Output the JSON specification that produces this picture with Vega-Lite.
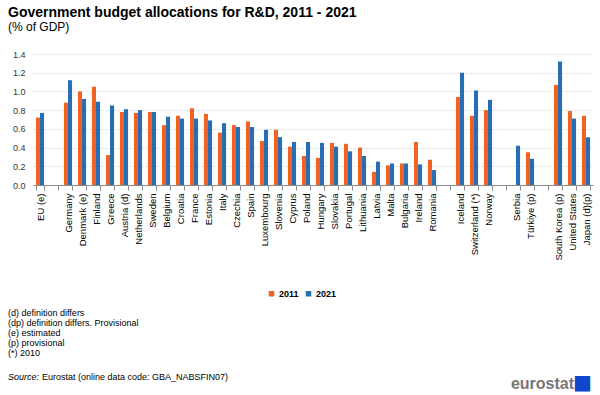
{
  "$schema": "https://vega.github.io/schema/vega-lite/v6.json",
  "padding": {"left": 8, "top": 6, "right": 7, "bottom": 5},
  "config": {"view": {"stroke": null}, "font": "Liberation Sans", "concat": {"spacing": 10}},
  "resolve": {"scale": {"color": "independent"}, "legend": {"color": "independent"}},
  "title": {
    "text": "Government budget allocations for R&D, 2011 - 2021",
    "subtitle": "(% of GDP)",
    "anchor": "start",
    "fontSize": 14,
    "fontWeight": "bold",
    "color": "#000000",
    "subtitleFontSize": 12,
    "subtitleColor": "#000000",
    "subtitlePadding": 2,
    "offset": 17
  },
  "datasets": {
    "bars": [
      {"country": "EU (e)", "year": "2021", "value": 0.77},
      {"country": "EU (e)", "year": "2011", "value": 0.72},
      {"country": "Germany", "year": "2011", "value": 0.88},
      {"country": "Germany", "year": "2021", "value": 1.12},
      {"country": "Denmark (e)", "year": "2011", "value": 1.0},
      {"country": "Denmark (e)", "year": "2021", "value": 0.92},
      {"country": "Finland", "year": "2011", "value": 1.05},
      {"country": "Finland", "year": "2021", "value": 0.89},
      {"country": "Greece", "year": "2011", "value": 0.32},
      {"country": "Greece", "year": "2021", "value": 0.85},
      {"country": "Austria (d)", "year": "2011", "value": 0.78},
      {"country": "Austria (d)", "year": "2021", "value": 0.81},
      {"country": "Netherlands", "year": "2011", "value": 0.77},
      {"country": "Netherlands", "year": "2021", "value": 0.8},
      {"country": "Sweden", "year": "2011", "value": 0.78},
      {"country": "Sweden", "year": "2021", "value": 0.78},
      {"country": "Belgium", "year": "2011", "value": 0.64},
      {"country": "Belgium", "year": "2021", "value": 0.73},
      {"country": "Croatia", "year": "2011", "value": 0.74},
      {"country": "Croatia", "year": "2021", "value": 0.71},
      {"country": "France", "year": "2011", "value": 0.82},
      {"country": "France", "year": "2021", "value": 0.71},
      {"country": "Estonia", "year": "2011", "value": 0.76},
      {"country": "Estonia", "year": "2021", "value": 0.69},
      {"country": "Italy", "year": "2011", "value": 0.56},
      {"country": "Italy", "year": "2021", "value": 0.66},
      {"country": "Czechia", "year": "2011", "value": 0.64},
      {"country": "Czechia", "year": "2021", "value": 0.62},
      {"country": "Spain", "year": "2011", "value": 0.68},
      {"country": "Spain", "year": "2021", "value": 0.62},
      {"country": "Luxembourg", "year": "2011", "value": 0.47},
      {"country": "Luxembourg", "year": "2021", "value": 0.59},
      {"country": "Slovenia", "year": "2011", "value": 0.59},
      {"country": "Slovenia", "year": "2021", "value": 0.51},
      {"country": "Cyprus", "year": "2011", "value": 0.41},
      {"country": "Cyprus", "year": "2021", "value": 0.46},
      {"country": "Poland", "year": "2011", "value": 0.31},
      {"country": "Poland", "year": "2021", "value": 0.46},
      {"country": "Hungary", "year": "2011", "value": 0.29},
      {"country": "Hungary", "year": "2021", "value": 0.45},
      {"country": "Slovakia", "year": "2011", "value": 0.45},
      {"country": "Slovakia", "year": "2021", "value": 0.41},
      {"country": "Portugal", "year": "2011", "value": 0.44},
      {"country": "Portugal", "year": "2021", "value": 0.36},
      {"country": "Lithuania", "year": "2011", "value": 0.4},
      {"country": "Lithuania", "year": "2021", "value": 0.31},
      {"country": "Latvia", "year": "2011", "value": 0.14},
      {"country": "Latvia", "year": "2021", "value": 0.25},
      {"country": "Malta", "year": "2011", "value": 0.21},
      {"country": "Malta", "year": "2021", "value": 0.23},
      {"country": "Bulgaria", "year": "2011", "value": 0.23},
      {"country": "Bulgaria", "year": "2021", "value": 0.23},
      {"country": "Ireland", "year": "2011", "value": 0.46},
      {"country": "Ireland", "year": "2021", "value": 0.22},
      {"country": "Romania", "year": "2011", "value": 0.27},
      {"country": "Romania", "year": "2021", "value": 0.16},
      {"country": "Iceland", "year": "2011", "value": 0.94},
      {"country": "Iceland", "year": "2021", "value": 1.2},
      {"country": "Switzerland (*)", "year": "2011", "value": 0.74},
      {"country": "Switzerland (*)", "year": "2021", "value": 1.01},
      {"country": "Norway", "year": "2011", "value": 0.8},
      {"country": "Norway", "year": "2021", "value": 0.91},
      {"country": "Serbia", "year": "2021", "value": 0.42},
      {"country": "Türkiye (p)", "year": "2011", "value": 0.35},
      {"country": "Türkiye (p)", "year": "2021", "value": 0.28},
      {"country": "South Korea (p)", "year": "2011", "value": 1.07},
      {"country": "South Korea (p)", "year": "2021", "value": 1.32},
      {"country": "United States", "year": "2011", "value": 0.79},
      {"country": "United States", "year": "2021", "value": 0.71},
      {"country": "Japan (d)(p)", "year": "2011", "value": 0.74},
      {"country": "Japan (d)(p)", "year": "2021", "value": 0.51}
    ],
    "notes": [
      {"n": "1", "kind": "note", "t": "(d) definition differs"},
      {"n": "2", "kind": "note", "t": "(dp) definition differs. Provisional"},
      {"n": "3", "kind": "note", "t": "(e) estimated"},
      {"n": "4", "kind": "note", "t": "(p) provisional"},
      {"n": "5", "kind": "note", "t": "(*) 2010"},
      {"n": "7", "kind": "srclabel", "t": "Source:"},
      {"n": "7", "kind": "src", "t": "Eurostat (online data code: GBA_NABSFIN07)"},
      {"n": "7", "kind": "logo", "t": "eurostat"},
      {"n": "7", "kind": "flag", "t": "■"}
    ]
  },
  "vconcat": [
    {
      "width": 560,
      "height": 131,
      "data": {"name": "bars"},
      "mark": {"type": "bar"},
      "encoding": {
        "x": {
          "field": "country",
          "type": "nominal",
          "scale": {
            "domain": ["EU (e)", " ", "Germany", "Denmark (e)", "Finland", "Greece", "Austria (d)", "Netherlands", "Sweden", "Belgium", "Croatia", "France", "Estonia", "Italy", "Czechia", "Spain", "Luxembourg", "Slovenia", "Cyprus", "Poland", "Hungary", "Slovakia", "Portugal", "Lithuania", "Latvia", "Malta", "Bulgaria", "Ireland", "Romania", "  ", "Iceland", "Switzerland (*)", "Norway", "   ", "Serbia", "Türkiye (p)", "    ", "South Korea (p)", "United States", "Japan (d)(p)"],
            "paddingInner": 0.42,
            "paddingOuter": 0.21
          },
          "axis": {
            "title": null,
            "labelAngle": -90,
            "labelFontSize": 9.5,
            "labelColor": "#000000",
            "labelPadding": 3,
            "domainColor": "#8c8c8c",
            "tickColor": "#8c8c8c",
            "tickSize": 5,
            "tickBand": "extent"
          }
        },
        "xOffset": {"field": "year", "type": "nominal"},
        "y": {
          "field": "value",
          "type": "quantitative",
          "scale": {"domain": [0, 1.4]},
          "axis": {
            "title": null,
            "values": [0, 0.2, 0.4, 0.6, 0.8, 1.0, 1.2, 1.4],
            "format": ".1f",
            "domain": false,
            "ticks": false,
            "labelPadding": 8,
            "labelFontSize": 9,
            "labelColor": "#333333",
            "gridColor": "#d9d9d9",
            "gridDash": [2, 2]
          }
        },
        "color": {
          "field": "year",
          "type": "nominal",
          "scale": {"domain": ["2011", "2021"], "range": ["#F06423", "#286EB4"]},
          "legend": {
            "title": null,
            "orient": "none",
            "legendX": 234,
            "legendY": 235,
            "direction": "horizontal",
            "symbolType": "square",
            "symbolSize": 30,
            "labelFontSize": 9,
            "labelFontWeight": "bold",
            "labelColor": "#000000",
            "labelOffset": 3,
            "columnPadding": 5
          }
        }
      }
    },
    {
      "width": 560,
      "height": 60,
      "data": {"name": "notes"},
      "encoding": {
        "y": {"field": "n", "type": "ordinal", "scale": {"type": "point", "domain": ["1", "2", "3", "4", "5", "6", "7"], "padding": 0}, "axis": null},
        "text": {"field": "t"}
      },
      "layer": [
        {
          "transform": [{"filter": "datum.kind === 'note'"}],
          "mark": {"type": "text", "align": "left", "baseline": "middle", "fontSize": 9, "color": "#000000", "dx": -25},
          "encoding": {"x": {"value": 0}}
        },
        {
          "transform": [{"filter": "datum.kind === 'srclabel'"}],
          "mark": {"type": "text", "align": "left", "baseline": "middle", "fontSize": 9, "fontStyle": "italic", "color": "#000000", "dx": -25, "dy": 4},
          "encoding": {"x": {"value": 0}}
        },
        {
          "transform": [{"filter": "datum.kind === 'src'"}],
          "mark": {"type": "text", "align": "left", "baseline": "middle", "fontSize": 9, "color": "#000000", "dx": 9, "dy": 4},
          "encoding": {"x": {"value": 0}}
        },
        {
          "transform": [{"filter": "datum.kind === 'logo'"}],
          "mark": {"type": "text", "align": "right", "baseline": "middle", "fontSize": 16, "fontWeight": "bold", "color": "#767676", "dx": -19, "dy": 11},
          "encoding": {"x": {"value": "width"}}
        },
        {
          "transform": [{"filter": "datum.kind === 'flag'"}],
          "mark": {"type": "text", "align": "right", "baseline": "middle", "font": "DejaVu Sans", "fontSize": 20, "color": "#0E47CB", "dx": -1, "dy": 10},
          "encoding": {"x": {"value": "width"}}
        }
      ]
    }
  ]
}
